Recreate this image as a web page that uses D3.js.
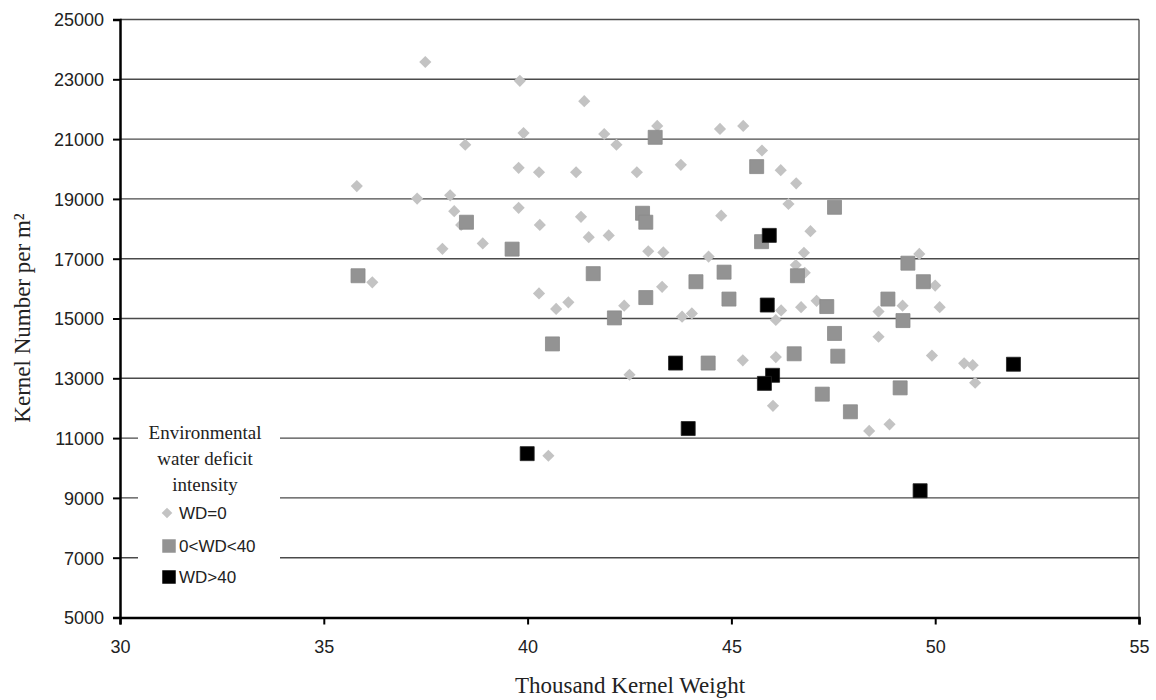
<!DOCTYPE html>
<html lang="en">
  <head>
    <meta charset="UTF-8" />
    <title>Kernel Number vs Thousand Kernel Weight</title>
    <style>
      body {
        margin: 0;
        background: #fff;
      }

      .grid-line {
        stroke: #4a4a4a;
        stroke-width: 1.4px;
      }

      .tick-label {
        font-family: "Liberation Sans", Arial, sans-serif;
        font-size: 18px;
        fill: #222;
      }

      .axis-title {
        font-family: "Liberation Serif", "Times New Roman", serif;
        font-size: 23px;
        fill: #222;
      }

      .legend-title {
        font-family: "Liberation Serif", "Times New Roman", serif;
        font-size: 19px;
        fill: #222;
      }

      .legend-item {
        font-family: "Liberation Sans", Arial, sans-serif;
        font-size: 17px;
        fill: #222;
      }
    </style>
  </head>
  <body>
    <script src="https://cdn.jsdelivr.net/npm/d3@7"></script>
    <script>

      // WD=0 (thousand kernel weight, kernel number per m2)
      var wd0 = [
        [37.49,23580],[39.81,22950],[41.39,22270],[43.18,21440],[39.90,21200],[41.88,21170],
        [38.47,20810],[42.18,20810],[39.78,20040],[40.28,19890],[41.19,19890],[42.68,19890],
        [35.81,19430],[37.29,19010],[38.10,19120],[38.20,18590],[38.37,18130],[39.78,18700],
        [40.30,18130],[41.31,18400],[41.50,17720],[41.99,17780],[37.91,17330],[38.90,17510],
        [42.96,17250],[43.33,17210],[44.72,21340],[45.29,21440],[45.75,20620],[43.76,20140],
        [46.21,19960],[46.59,19520],[46.40,18830],[44.75,18440],[46.94,17920],[44.44,17070],
        [46.78,17200],[49.61,17160],[36.19,16210],[40.28,15840],[40.70,15320],[41.00,15540],
        [42.37,15430],[43.30,16060],[42.50,13120],[40.51,10410],[46.58,16790],[46.80,16530],
        [50.00,16100],[46.22,15270],[46.09,14950],[46.71,15380],[47.09,15590],[49.20,15430],
        [50.11,15380],[48.61,15230],[43.79,15060],[44.03,15170],[48.61,14390],[45.28,13600],
        [46.09,13710],[49.92,13760],[50.71,13500],[50.92,13440],[50.98,12850],[46.02,12080],
        [48.38,11240],[48.88,11460]
      ];

      // 0<WD<40
      var wdMid = [
        [43.13,21060],[42.82,18520],[42.90,18220],[39.62,17320],[38.50,18220],[45.62,20080],
        [47.53,18720],[45.74,17570],[35.84,16430],[41.61,16500],[42.90,15700],[42.13,15020],
        [40.61,14150],[49.33,16850],[44.82,16550],[44.13,16230],[46.62,16430],[49.71,16230],
        [44.94,15650],[47.34,15400],[48.84,15650],[49.21,14930],[47.53,14500],[44.43,13510],
        [46.54,13820],[47.61,13740],[49.14,12680],[47.23,12470],[47.92,11880]
      ];

      // WD>40
      var wdHigh = [
        [45.93,17780],[45.88,15450],[43.63,13510],[46.01,13100],[45.81,12830],
        [43.94,11320],[39.99,10480],[49.63,9240],[51.92,13470]
      ];

      var xTicks = [30, 35, 40, 45, 50, 55];
      var yTicks = [5000, 7000, 9000, 11000, 13000, 15000, 17000, 19000, 21000, 23000, 25000];

      var legendTitle = ["Environmental", "water deficit", "intensity"];
      var legendLabels = ["WD=0", "0<WD<40", "WD>40"];

      var w = 1156,
          h = 700;

      var plot = { left: 120, right: 1139, top: 19.5, bottom: 617.5 };

      var svg = d3.select("body").append("svg")
        .attr("width", w)
        .attr("height", h);

      var xScale = d3.scaleLinear()
        .domain([30, 55])
        .range([plot.left, plot.right]);

      var yScale = d3.scaleLinear()
        .domain([5000, 25000])
        .range([plot.bottom, plot.top]);

      // plot area border (right side)
      svg.append("line")
        .attr("x1", plot.right).attr("x2", plot.right)
        .attr("y1", plot.top).attr("y2", plot.bottom)
        .attr("stroke", "#8a8a8a")
        .attr("stroke-width", 2);

      // gridlines
      svg.selectAll(".grid-line")
        .data(yTicks.slice(1))
        .enter()
        .append("line")
        .attr("class", "grid-line")
        .attr("x1", plot.left)
        .attr("x2", plot.right)
        .attr("y1", function(d) { return yScale(d); })
        .attr("y2", function(d) { return yScale(d); });

      // axes
      var yAxis = d3.axisLeft(yScale)
        .tickValues(yTicks)
        .tickSize(7)
        .tickPadding(9)
        .tickFormat(d3.format("d"));

      var xAxis = d3.axisBottom(xScale)
        .tickValues(xTicks)
        .tickSize(7)
        .tickPadding(16)
        .tickFormat(d3.format("d"));

      var gy = svg.append("g")
        .attr("transform", "translate(" + plot.left + ",0)")
        .call(yAxis);

      var gx = svg.append("g")
        .attr("transform", "translate(0," + plot.bottom + ")")
        .call(xAxis);

      [gx, gy].forEach(function(g) {
        g.select(".domain").attr("stroke", "#000").attr("stroke-width", 2.5);
        g.selectAll(".tick line").attr("stroke", "#000").attr("stroke-width", 2);
        g.selectAll(".tick text")
          .attr("class", "tick-label")
          .attr("fill", null)
          .attr("font-family", null)
          .attr("font-size", null);
      });
      gy.selectAll(".tick text").attr("dy", "0.35em");

      // legend box (hides gridlines behind it)
      var legend = svg.append("g");

      legend.append("rect")
        .attr("x", 138)
        .attr("y", 420)
        .attr("width", 142)
        .attr("height", 178)
        .attr("fill", "#fff");

      legend.selectAll(".legend-title")
        .data(legendTitle)
        .enter()
        .append("text")
        .attr("class", "legend-title")
        .attr("x", 205)
        .attr("y", function(d, i) { return 439 + i * 26; })
        .attr("text-anchor", "middle")
        .text(function(d) { return d; });

      var diamond = d3.symbol().type(d3.symbolSquare).size(74);
      var square = d3.symbol().type(d3.symbolSquare).size(196);

      // points
      svg.append("g")
        .selectAll("path")
        .data(wd0)
        .enter()
        .append("path")
        .attr("d", diamond)
        .attr("transform", function(d) {
          return "translate(" + xScale(d[0]) + "," + yScale(d[1]) + ") rotate(45)";
        })
        .attr("fill", "#c3c3c3");

      svg.append("g")
        .selectAll("path")
        .data(wdMid)
        .enter()
        .append("path")
        .attr("d", square)
        .attr("transform", function(d) {
          return "translate(" + xScale(d[0]) + "," + yScale(d[1]) + ")";
        })
        .attr("fill", "#939393")
        .attr("stroke", "#8a8a8a")
        .attr("stroke-width", 0.8);

      svg.append("g")
        .selectAll("path")
        .data(wdHigh)
        .enter()
        .append("path")
        .attr("d", square)
        .attr("transform", function(d) {
          return "translate(" + xScale(d[0]) + "," + yScale(d[1]) + ")";
        })
        .attr("fill", "#000")
        .attr("stroke", "#222")
        .attr("stroke-width", 0.8);

      // legend items
      var itemY = [513, 546, 577];

      legend.append("path")
        .attr("d", d3.symbol().type(d3.symbolSquare).size(56))
        .attr("transform", "translate(167," + itemY[0] + ") rotate(45)")
        .attr("fill", "#c3c3c3");

      legend.append("path")
        .attr("d", d3.symbol().type(d3.symbolSquare).size(182))
        .attr("transform", "translate(169," + itemY[1] + ")")
        .attr("fill", "#939393");

      legend.append("path")
        .attr("d", d3.symbol().type(d3.symbolSquare).size(182))
        .attr("transform", "translate(169," + itemY[2] + ")")
        .attr("fill", "#000");

      legend.selectAll(".legend-item")
        .data(legendLabels)
        .enter()
        .append("text")
        .attr("class", "legend-item")
        .attr("x", 179)
        .attr("y", function(d, i) { return itemY[i]; })
        .attr("dy", "0.36em")
        .text(function(d) { return d; });

      // axis titles
      svg.append("text")
        .attr("class", "axis-title")
        .attr("text-anchor", "middle")
        .attr("x", 630)
        .attr("y", 693)
        .text("Thousand Kernel Weight");

      svg.append("text")
        .attr("class", "axis-title")
        .attr("text-anchor", "middle")
        .attr("transform", "translate(30,318) rotate(-90)")
        .text("Kernel Number per m²");

    </script>
  </body>
</html>
